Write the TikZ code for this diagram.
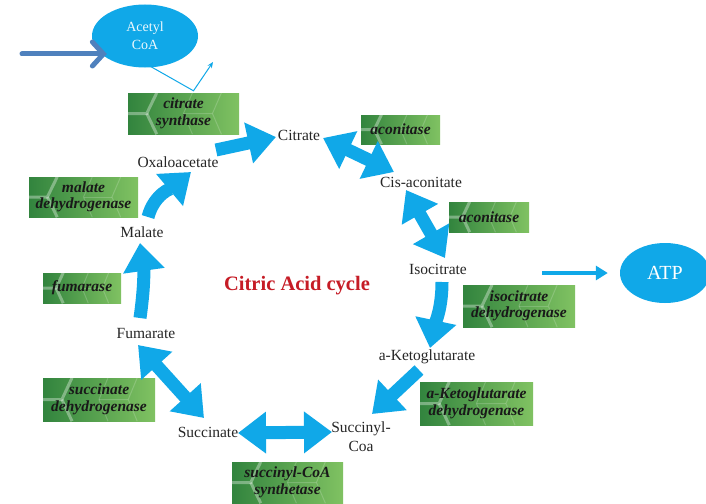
\documentclass[tikz,border=0pt]{standalone}
\usepackage{fontspec}
\setmainfont{Liberation Serif}
\usetikzlibrary{arrows.meta,shapes.geometric,calc}
\definecolor{cyanA}{RGB}{16,168,232}
\definecolor{steelA}{RGB}{79,129,189}
\definecolor{redA}{RGB}{198,28,38}
\definecolor{greenD}{RGB}{50,132,62}
\definecolor{greenL}{RGB}{128,194,98}
\tikzset{
  lbl/.style={font=\fontsize{15.5}{17}\selectfont, text=black!85, inner sep=1pt, align=center},
  enz/.style={rectangle, inner sep=0pt, left color=greenD, right color=greenL, shading angle=90},
  enztext/.style={font=\fontsize{15.5}{16.5}\selectfont\bfseries\itshape, text=black!90, align=center, inner sep=0pt},
  hexa/.style={white, opacity=0.35, line width=3pt},
  hexb/.style={white, opacity=0.18, line width=1pt},
  big/.style={cyanA, line width=13pt, -{Triangle[width=40pt,length=28pt]}},
  bigd/.style={cyanA, line width=13pt, {Triangle[width=40pt,length=28pt]}-{Triangle[width=40pt,length=28pt]}},
}
\newcommand\enzyme[6]{%
  \node[enz, minimum width=#4pt, minimum height=#5pt] (#1) at (#2,#3) {};
  \begin{scope}
    \clip (#1.south west) rectangle (#1.north east);
    \draw[hexa] (#1.west) -- ($(#1.west)!0.17!(#1.east)$) -- ($(#1.north west)!0.26!(#1.north east)$);
    \draw[hexa] ($(#1.west)!0.17!(#1.east)$) -- ($(#1.south west)!0.26!(#1.south east)$);
    \draw[hexb] ($(#1.north west)!0.58!(#1.north east)$) -- ($(#1.west)!0.5!(#1.east)$) -- ($(#1.south west)!0.58!(#1.south east)$);
    \draw[hexb] ($(#1.west)!0.5!(#1.east)$) -- ($(#1.west)!0.76!(#1.east)$);
    \draw[hexb] ($(#1.north west)!0.84!(#1.north east)$) -- ($(#1.west)!0.76!(#1.east)$) -- ($(#1.south west)!0.84!(#1.south east)$);
  \end{scope}
  \node[enztext] at (#1) {#6};
}
\begin{document}
\begin{tikzpicture}[x=1pt,y=1pt]
\useasboundingbox[fill=white] (0,0) rectangle (706,-503);

% substrates
\node[lbl] (cit) at (299,-135) {Citrate};
\node[lbl] (cis) at (421,-182) {Cis-aconitate};
\node[lbl] (iso) at (438,-269) {Isocitrate};
\node[lbl] (akg) at (427,-357) {a-Ketoglutarate};
\node[lbl, font=\fontsize{15.5}{19}\selectfont] (scoa) at (361,-437) {Succinyl-\\Coa};
\node[lbl] (succ) at (208,-432) {Succinate};
\node[lbl] (fum) at (146,-333) {Fumarate};
\node[lbl] (mal) at (142,-232) {Malate};
\node[lbl] (oxa) at (178,-162) {Oxaloacetate};
\node[font=\fontsize{20.5}{22}\selectfont\bfseries, text=redA] (title) at (297,-286) {Citric Acid cycle};

% enzymes
\enzyme{cs}{183.5}{-113.5}{111}{41}{citrate\\synthase}
\enzyme{acoA}{400.5}{-129.5}{79}{29}{aconitase}
\enzyme{acoB}{489}{-217}{80}{30}{aconitase}
\enzyme{idh}{519}{-306}{112}{42}{isocitrate\\dehydrogenase}
\enzyme{akgdh}{476.5}{-403.5}{113}{43}{a-Ketoglutarate\\dehydrogenase}
\enzyme{scs}{287.5}{-482.5}{111}{41}{succinyl-CoA\\synthetase}
\enzyme{sdh}{99}{-399.5}{112}{43}{succinate\\dehydrogenase}
\enzyme{fuma}{82}{-288}{78}{30}{fumarase}
\enzyme{mdh}{83.5}{-197}{109}{40}{malate\\dehydrogenase}

% acetyl CoA and ATP
\node[ellipse, fill=cyanA, minimum width=106pt, minimum height=63pt, inner sep=0pt, align=center,
      text=white!92!cyanA, font=\fontsize{14}{18}\selectfont] (acoa) at (145,-36) {Acetyl\\CoA};
\node[ellipse, fill=cyanA, minimum width=90pt, minimum height=60pt, inner sep=0pt,
      text=white, font=\fontsize{20}{22}\selectfont] (atp) at (665,-273) {ATP};

\coordinate (inflow) at (22,-54);
\draw[steelA, line width=5pt, line cap=round, -{Straight Barb[length=11pt,width=24pt,line cap=round]}]
  (inflow) -- ($(acoa.west)+(15,-18)$);

\coordinate (acoaout) at (213,-62);
\draw[cyanA, line width=1pt, -{Stealth[length=6pt,width=5pt]}]
  ($(acoa.south)+(6,1)$) -- ($(cs.north)+(10,2)$) -- (acoaout);

\coordinate (atpsrc) at (542,-273);
\draw[cyanA, line width=4pt, -{Triangle[width=14pt,length=12pt]}] (atpsrc) -- ($(atp.west)+(-12,0)$);

% cycle arrows
\draw[big]  ($(oxa)+(38,12)$) -- ($(cit)+(-23,-2)$);
\draw[bigd] ($(cit)+(24,-3)$) -- ($(cis)+(-27,10)$);
\draw[bigd] ($(cis)+(-15,-8)$) -- ($(iso)+(7,11)$);
\draw[big]  ($(iso)+(4,-13)$) to[out=-90,in=78] ($(akg)+(3,9)$);
\draw[big]  ($(akg)+(-8,-13)$) -- ($(scoa)+(11,23)$);
\draw[bigd] ($(succ)+(30,-1)$) -- ($(scoa)+(-29,5)$);
\draw[bigd] ($(fum)+(-8,-12)$) -- ($(succ)+(-4,14)$);
\draw[big]  ($(fum)+(-6,15)$) to[bend right=8] ($(mal)+(-2,-11)$);
\draw[big]  ($(mal)+(6,15)$) to[out=75,in=-140] ($(oxa)+(13,-10)$);
\end{tikzpicture}
\end{document}
